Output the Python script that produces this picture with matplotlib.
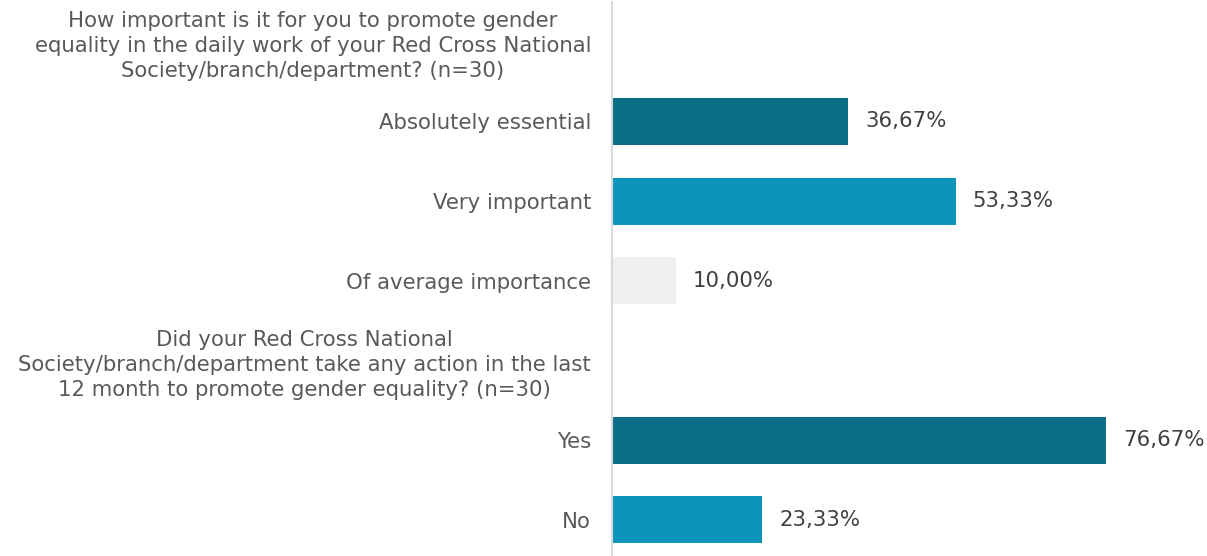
import matplotlib.pyplot as plt

labels = [
    "How important is it for you to promote gender\nequality in the daily work of your Red Cross National\nSociety/branch/department? (n=30)",
    "Absolutely essential",
    "Very important",
    "Of average importance",
    "Did your Red Cross National\nSociety/branch/department take any action in the last\n12 month to promote gender equality? (n=30)",
    "Yes",
    "No",
]
values = [None, 36.67, 53.33, 10.00, None, 76.67, 23.33]
colors = [None, "#0b6f88", "#0c94b9", "#f0f0f0", None, "#0b6f88", "#0c94b9"]

fig = plt.figure(figsize=(12.07, 5.56), dpi=100)
ax = fig.add_axes([612 / 1207, 0, (1192 - 612) / 1207, 554 / 556])

for i, (v, c) in enumerate(zip(values, colors)):
    if v is None:
        continue
    ax.barh(i, v, height=0.59, color=c)
    ax.annotate(f"{v:.2f}%".replace(".", ","), xy=(v, i), xytext=(12, 0),
                textcoords="offset points", va="center", ha="left",
                fontsize=15.3, color="#404040")

ax.set_xlim(0, 90)
ax.set_ylim(6.454, -0.5)
ax.set_yticks(range(len(labels)))
ax.set_yticklabels(labels, fontsize=15.3, color="#595959")
for t in ax.get_yticklabels():
    t.set_multialignment("center")
    t.set_linespacing(1.3)
ax.tick_params(axis="y", length=0, pad=15)
ax.set_xticks([])
for side in ["top", "right", "bottom"]:
    ax.spines[side].set_visible(False)
ax.spines["left"].set_color("#d9d9d9")
ax.spines["left"].set_linewidth(1.5)

fig.savefig("out.png", dpi=100)
